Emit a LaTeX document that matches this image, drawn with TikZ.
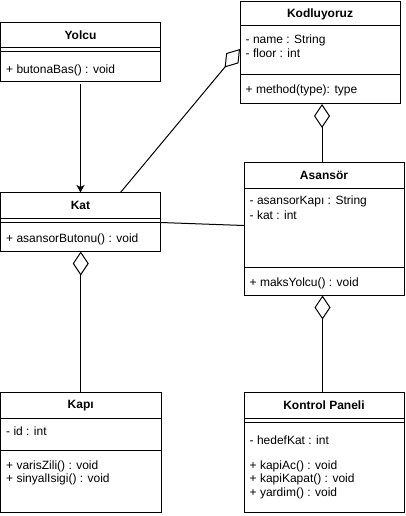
\documentclass[tikz,border=0pt]{standalone}
\usepackage{fontspec}
\setmainfont{Liberation Sans}
\usetikzlibrary{arrows.meta,calc}
\begin{document}
\begin{tikzpicture}[x=1pt,y=-1pt,
  umlbox/.style={draw=black, line width=1pt, fill=white, anchor=north west, inner sep=0pt, outer sep=0pt},
  ttl/.style={font=\fontsize{12}{14}\selectfont\bfseries, inner sep=0pt},
  attr/.style={anchor=west, inner sep=0pt, font=\fontsize{12}{14}\selectfont},
  sepline/.style={draw=black, line width=1pt},
  conn/.style={draw=black, line width=1pt},
  aggr/.style={conn, -{Diamond[open, fill=white, length=24pt, width=16pt]}},
  assoc/.style={conn, -{Stealth[length=7.5pt, width=8pt, inset=2pt]}}
]
\useasboundingbox (0,0) rectangle (406,516);

% ---------- Yolcu ----------
\node[umlbox, minimum width=160pt, minimum height=59pt] (yolcu) at (0.5,22.5) {};
\node[ttl] (yolcuT) at (80.5,35.3) {Yolcu};
\draw[sepline] (0.5,48) -- (160.5,48);
\draw[sepline] (0.5,52) -- (160.5,52);
\node[attr] (yolcuM1) at (6,70) {+ butonaBas() : void};

% ---------- Kodluyoruz ----------
\node[umlbox, minimum width=160pt, minimum height=102.5pt] (kod) at (240,1.5) {};
\node[ttl] (kodT) at (320,14) {Kodluyoruz};
\draw[sepline] (240,26) -- (400,26);
\draw[sepline] (240,75) -- (400,75);
\node[attr] (kodA1) at (245.5,40) {- name : String};
\node[attr] (kodA2) at (245.5,53) {- floor : int};
\node[attr] (kodM1) at (245.5,90) {+ method(type): type};

% ---------- Kat ----------
\node[umlbox, minimum width=160pt, minimum height=59pt] (kat) at (0.5,192.5) {};
\node[ttl] (katT) at (80.5,205.3) {Kat};
\draw[sepline] (0.5,218) -- (160.5,218);
\draw[sepline] (0.5,222) -- (160.5,222);
\node[attr] (katM1) at (6,239) {+ asansorButonu() : void};

% ---------- Asansor ----------
\node[umlbox, minimum width=160pt, minimum height=133pt] (ans) at (244,162.5) {};
\node[ttl] (ansT) at (324,175.3) {Asansör};
\draw[sepline] (244,188) -- (404,188);
\draw[sepline] (244,267) -- (404,267);
\node[attr] (ansA1) at (249.5,201.5) {- asansorKapı : String};
\node[attr] (ansA2) at (249.5,215.5) {- kat : int};
\node[attr] (ansM1) at (249.5,283) {+ maksYolcu() : void};

% ---------- Kapi ----------
\node[umlbox, minimum width=160.5pt, minimum height=120pt] (kapi) at (0.5,392.5) {};
\node[ttl] (kapiT) at (80.75,405.3) {Kapı};
\draw[sepline] (0.5,418) -- (161,418);
\draw[sepline] (0.5,450) -- (161,450);
\node[attr] (kapiA1) at (6,431.5) {- id : int};
\node[attr] (kapiM1) at (6,466) {+ varisZili() : void};
\node[attr] (kapiM2) at (6,479) {+ sinyalIsigi() : void};

% ---------- Kontrol Paneli ----------
\node[umlbox, minimum width=160pt, minimum height=120pt] (kp) at (244,392.5) {};
\node[ttl] (kpT) at (324,405.3) {Kontrol Paneli};
\draw[sepline] (244,418) -- (404,418);
\draw[sepline] (244,422) -- (404,422);
\node[attr] (kpA1) at (249.5,440.5) {- hedefKat : int};
\node[attr] (kpM1) at (249.5,466) {+ kapiAc() : void};
\node[attr] (kpM2) at (249.5,479) {+ kapiKapat() : void};
\node[attr] (kpM3) at (249.5,493) {+ yardim() : void};

% ---------- Connectors ----------
\draw[assoc, shorten <=3pt] (yolcu.south) -- (kat.north);
\draw[aggr] ($(kat.north west)+(120,0)$) -- ($(kod.north west)+(0,47.5)$);
\draw[aggr] ($(ans.north west)+(78,0)$) -- ($(kod.south west)+(82,0)$);
\draw[conn] ($(kat.north east)+(0,30)$) -- ($(ans.north west)+(0,63)$);
\draw[aggr] (kapi.north) -- (kapi.north |- kat.south);
\draw[aggr] ($(kp.north west)+(78.5,0)$) -- ($(ans.south west)+(78.5,0)$);
\end{tikzpicture}
\end{document}
